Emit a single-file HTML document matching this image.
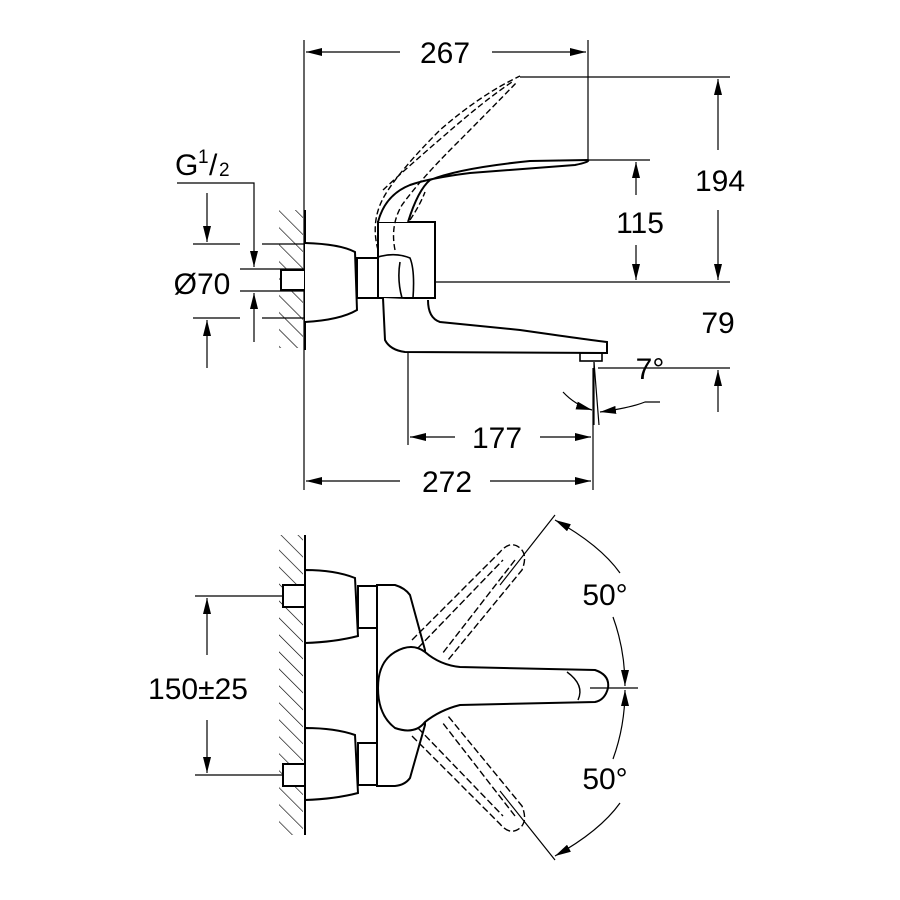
<!DOCTYPE html>
<html><head><meta charset="utf-8"><style>html,body{margin:0;padding:0;background:#fff}svg{display:block}</style></head>
<body>
<svg width="900" height="900" viewBox="0 0 900 900" xmlns="http://www.w3.org/2000/svg">
<defs>
<marker id="a" viewBox="0 0 10 10" refX="10" refY="5" markerWidth="16" markerHeight="8" markerUnits="userSpaceOnUse" orient="auto-start-reverse" preserveAspectRatio="none"><path d="M0,0 L10,5 L0,10 z" fill="#000"/></marker>
<pattern id="h" width="12" height="12" patternUnits="userSpaceOnUse" patternTransform="rotate(-45)"><line x1="0" y1="0" x2="0" y2="12" stroke="#000" stroke-width="1.3"/></pattern>
</defs>
<g fill="none" stroke="#000" stroke-width="1.2" font-family="Liberation Sans, sans-serif">
<!-- TOP VIEW -->
<line x1="304" y1="40" x2="304" y2="490"/>
<rect x="279" y="210" width="24" height="138" fill="url(#h)" stroke="none"/>
<line x1="305" y1="210" x2="305" y2="350" stroke-width="2"/>
<line x1="588" y1="40" x2="588" y2="160"/>
<line x1="306" y1="52" x2="400" y2="52" marker-start="url(#a)"/>
<line x1="492" y1="52" x2="586" y2="52" marker-end="url(#a)"/>
<line x1="520" y1="77" x2="730" y2="77"/>
<line x1="588" y1="160" x2="650" y2="160"/>
<line x1="306" y1="282" x2="730" y2="282"/>
<line x1="718" y1="150" x2="718" y2="79" marker-end="url(#a)"/>
<line x1="718" y1="210" x2="718" y2="280" marker-end="url(#a)"/>
<line x1="636" y1="195" x2="636" y2="162" marker-end="url(#a)"/>
<line x1="636" y1="245" x2="636" y2="280" marker-end="url(#a)"/>
<line x1="598" y1="368" x2="730" y2="368"/>
<line x1="718" y1="412" x2="718" y2="370" marker-end="url(#a)"/>
<line x1="594" y1="362" x2="594" y2="425"/>
<line x1="594" y1="362" x2="599" y2="425"/>
<path d="M563,392 Q575,405 592,410" marker-end="url(#a)"/>
<path d="M660,402 L645,402 Q630,408 600,412" marker-end="url(#a)"/>
<line x1="408" y1="300" x2="408" y2="445"/>
<line x1="593" y1="368" x2="593" y2="490"/>
<line x1="410" y1="437" x2="455" y2="437" marker-start="url(#a)"/>
<line x1="540" y1="437" x2="591" y2="437" marker-end="url(#a)"/>
<line x1="306" y1="481" x2="400" y2="481" marker-start="url(#a)"/>
<line x1="490" y1="481" x2="591" y2="481" marker-end="url(#a)"/>
<polyline points="177,183 254,183 254,267" marker-end="url(#a)"/>
<line x1="193" y1="244" x2="240" y2="244"/><line x1="262" y1="244" x2="305" y2="244"/>
<line x1="240" y1="269" x2="305" y2="269"/>
<line x1="240" y1="291" x2="305" y2="291"/>
<line x1="193" y1="318" x2="240" y2="318"/><line x1="262" y1="318" x2="305" y2="318"/>
<line x1="207" y1="193" x2="207" y2="242" marker-end="url(#a)"/>
<line x1="207" y1="368" x2="207" y2="320" marker-end="url(#a)"/>
<line x1="254" y1="342" x2="254" y2="293" marker-end="url(#a)"/>
<rect x="281" y="270" width="24" height="20" stroke-width="2" fill="#fff"/>
<path d="M305,243 Q340,244 355,252 L357,310 Q340,320 305,322" stroke-width="2" fill="#fff"/>
<rect x="357" y="258" width="21" height="40" stroke-width="2" fill="#fff"/>
<path d="M378,222 L435,222 L435,298 L378,298 z" stroke-width="2" fill="#fff"/>
<path d="M378,257 Q395,252 410,258 Q415,270 413,298 M400,262 Q397,280 402,298" stroke-width="1.6"/>
<path d="M378,222 Q385,195 410,185 Q430,178 470,173 L575,165 Q590,162 588,160 L530,161 Q460,168 430,180 Q418,190 408,222" stroke-width="2" fill="#fff"/>
<path d="M383,298 L385,340 Q390,350 405,352 L607,353 L607,342 Q590,340 520,330 L440,322 Q428,318 428,300" stroke-width="2" fill="#fff"/>
<rect x="580" y="353" width="22" height="8" stroke-width="1.6"/>
<g stroke-dasharray="6,3" stroke-width="1.4">
<path d="M378,250 Q370,220 385,195 Q400,170 440,130 Q480,95 520,76"/>
<path d="M395,250 Q390,225 402,205 Q420,180 455,145 Q490,110 517,82"/>
<path d="M383,190 Q410,165 445,135 Q485,100 512,82"/>
<path d="M410,220 Q420,205 425,192"/>
</g>
<g fill="#000" stroke="none" font-size="30">
<text x="445" y="63" text-anchor="middle">267</text>
<text x="720" y="191" text-anchor="middle">194</text>
<text x="640" y="233" text-anchor="middle">115</text>
<text x="718" y="333" text-anchor="middle">79</text>
<text x="650" y="379" text-anchor="middle">7°</text>
<text x="497" y="448" text-anchor="middle">177</text>
<text x="447" y="492" text-anchor="middle">272</text>
<text x="202" y="294" text-anchor="middle">Ø70</text>
<text x="175" y="175">G</text><text x="198" y="163" font-size="19">1</text><text x="209" y="175">/</text><text x="219" y="176" font-size="19">2</text>
<text x="605" y="605" text-anchor="middle">50°</text>
<text x="605" y="789" text-anchor="middle">50°</text>
<text x="198" y="699" text-anchor="middle">150±25</text>
</g>
<!-- BOTTOM VIEW -->
<rect x="279" y="535" width="24" height="300" fill="url(#h)" stroke="none"/>
<line x1="305" y1="535" x2="305" y2="835" stroke-width="2"/>
<line x1="195" y1="596" x2="300" y2="596"/>
<line x1="195" y1="775" x2="300" y2="775"/>
<line x1="207" y1="655" x2="207" y2="598" marker-end="url(#a)"/>
<line x1="207" y1="720" x2="207" y2="773" marker-end="url(#a)"/>
<rect x="283" y="585" width="22" height="22" stroke-width="2" fill="#fff"/>
<rect x="283" y="764" width="22" height="22" stroke-width="2" fill="#fff"/>
<path d="M305,570 Q335,570 355,578 L358,636 Q335,642 305,643 z" stroke-width="2" fill="#fff"/>
<path d="M305,728 Q335,728 355,735 L358,793 Q335,799 305,800 z" stroke-width="2" fill="#fff"/>
<rect x="358" y="586" width="20" height="42" stroke-width="2" fill="#fff"/>
<rect x="358" y="743" width="20" height="42" stroke-width="2" fill="#fff"/>
<path d="M377,585 L395,585 Q405,588 410,595 L425,650 L425,725 L410,778 Q405,785 395,786 L377,786 z" stroke-width="2" fill="#fff"/>
<g stroke-dasharray="7,3" stroke-width="1.4">
<path d="M412,640 L500,552 Q510,540 520,548 Q528,555 522,570 L448,660"/>
<path d="M418,648 L503,560 M515,560 L442,654"/>
<path d="M412,736 L500,824 Q510,836 520,828 Q528,821 522,806 L448,716"/>
<path d="M418,728 L503,816 M515,816 L442,722"/>
</g>
<path d="M425,652 Q440,665 460,667 L595,670 Q610,675 608,688 Q605,700 595,702 L460,705 Q440,710 425,722 Q415,735 395,728 Q378,715 378,688 Q378,662 395,652 Q412,642 425,652 z" stroke-width="2" fill="#fff"/>
<path d="M567,672 Q585,685 578,700" stroke-width="1.4"/>
<line x1="590" y1="688" x2="638" y2="688"/>
<line x1="500" y1="585" x2="555" y2="515"/>
<line x1="500" y1="791" x2="555" y2="860"/>
<path d="M555,520 Q600,545 620,573" marker-start="url(#a)"/>
<path d="M613,617 Q625,650 625,686" marker-end="url(#a)"/>
<path d="M555,856 Q600,831 620,803" marker-start="url(#a)"/>
<path d="M613,759 Q625,726 625,690" marker-end="url(#a)"/>
</g>
</svg>
</body></html>
